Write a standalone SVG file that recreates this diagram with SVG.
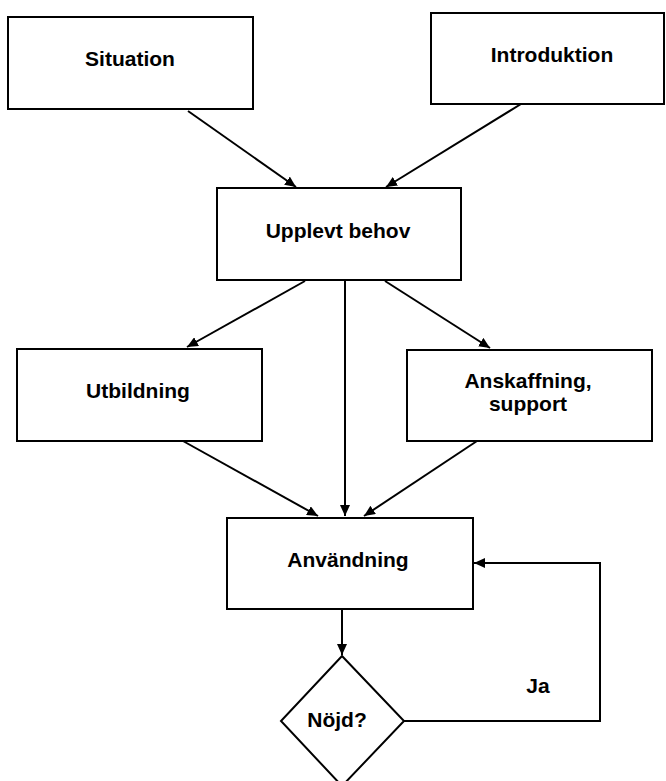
<svg xmlns="http://www.w3.org/2000/svg" width="666" height="781" viewBox="0 0 666 781">
<style>
.box{fill:#fff;stroke:#000;stroke-width:2}
.lbl{font-family:"Liberation Sans",Arial,sans-serif;font-weight:bold;font-size:21px;fill:#000;text-anchor:middle}
.con{fill:none;stroke:#000;stroke-width:2}
</style>
<defs>
<marker id="arr" markerUnits="userSpaceOnUse" markerWidth="12" markerHeight="10" refX="11" refY="5" orient="auto">
<path d="M0,0 L11,5 L0,10 z" fill="#000"/>
</marker>
</defs>
<rect width="666" height="781" fill="#fff"/>
<g id="connectors">
<line class="con" x1="188" y1="111" x2="296" y2="187" marker-end="url(#arr)"/>
<line class="con" x1="521" y1="104" x2="386" y2="187" marker-end="url(#arr)"/>
<line class="con" x1="305" y1="281" x2="187" y2="347" marker-end="url(#arr)"/>
<line class="con" x1="385" y1="281" x2="490" y2="348" marker-end="url(#arr)"/>
<line class="con" x1="345" y1="280" x2="345" y2="516" marker-end="url(#arr)"/>
<line class="con" x1="183" y1="441" x2="318" y2="516" marker-end="url(#arr)"/>
<line class="con" x1="477" y1="441" x2="364" y2="516" marker-end="url(#arr)"/>
<line class="con" x1="342" y1="610" x2="342" y2="655" marker-end="url(#arr)"/>
<polyline class="con" points="404,721 600,721 600,563 474,563" marker-end="url(#arr)"/>
</g>
<g id="situation">
<rect class="box" x="8" y="17" width="245" height="92"/>
<text class="lbl" x="130" y="66">Situation</text>
</g>
<g id="introduktion">
<rect class="box" x="431" y="13" width="233" height="91"/>
<text class="lbl" x="552" y="62">Introduktion</text>
</g>
<g id="upplevt-behov">
<rect class="box" x="217" y="188" width="244" height="92"/>
<text class="lbl" x="338" y="238">Upplevt behov</text>
</g>
<g id="utbildning">
<rect class="box" x="17" y="349" width="245" height="92"/>
<text class="lbl" x="138" y="398">Utbildning</text>
</g>
<g id="anskaffning">
<rect class="box" x="407" y="350" width="245" height="91"/>
<text class="lbl" x="528" y="388">Anskaffning,</text>
<text class="lbl" x="528" y="411">support</text>
</g>
<g id="anvandning">
<rect class="box" x="227" y="518" width="246" height="91"/>
<text class="lbl" x="348" y="567">Användning</text>
</g>
<g id="nojd">
<polygon class="box" points="342,656 404,721 342,786 281,721"/>
<text class="lbl" x="337" y="727">Nöjd?</text>
</g>
<g id="ja-label">
<text class="lbl" x="538" y="693">Ja</text>
</g>
</svg>
